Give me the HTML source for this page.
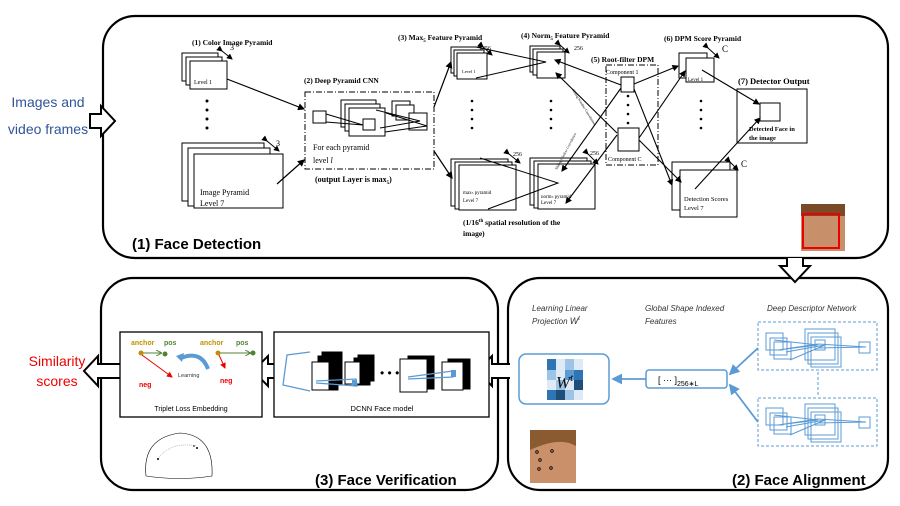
<!DOCTYPE html>
<html><head><meta charset="utf-8"><style>
html,body{margin:0;padding:0;background:#fff;}
svg{display:block;}
.s{font-family:"Liberation Serif",serif;}
.c{font-family:"Liberation Sans",sans-serif;}
</style></head><body>
<svg width="900" height="506" viewBox="0 0 900 506" xmlns="http://www.w3.org/2000/svg">
<defs>
<marker id="a" markerWidth="6" markerHeight="6" refX="5" refY="3" orient="auto"><path d="M0,0 L6,3 L0,6 z" fill="#000"/></marker>
<marker id="ab" markerWidth="6" markerHeight="6" refX="5" refY="3" orient="auto"><path d="M0,0 L6,3 L0,6 z" fill="#5b9bd5"/></marker>
<marker id="ar" markerWidth="6" markerHeight="6" refX="5" refY="3" orient="auto"><path d="M0,0 L6,3 L0,6 z" fill="#e00"/></marker>
<marker id="ag" markerWidth="6" markerHeight="6" refX="5" refY="3" orient="auto"><path d="M0,0 L6,3 L0,6" fill="none" stroke="#548235"/></marker>
</defs>
<!-- main boxes -->
<rect x="103" y="16" width="785" height="242" rx="32" fill="none" stroke="#000" stroke-width="2.2"/>
<rect x="101" y="278" width="397" height="212" rx="32" fill="none" stroke="#000" stroke-width="2.2"/>
<rect x="508" y="278" width="380" height="212" rx="32" fill="none" stroke="#000" stroke-width="2.2"/>
<!-- hollow arrows -->
<path d="M90,114 H101 V106 L115,121 L101,136 V128 H90 Z" fill="#fff" stroke="#000" stroke-width="2"/>
<path d="M787,258 V266 H780 L795,282 L810,266 H803 V258" fill="#fff" stroke="#000" stroke-width="2"/>
<path d="M125,364 H98 V356 L84,371 L98,386 V378 H125 Z" fill="#fff" stroke="#000" stroke-width="2"/>
<path d="M282,364 H268 V356 L253,371 L268,386 V378 H282" fill="#fff" stroke="#000" stroke-width="2"/>
<path d="M510,364 H492 V356 L477,371 L492,386 V378 H510" fill="#fff" stroke="#000" stroke-width="2"/>
<text x="48" y="107" class="c" font-size="14" fill="#2f5597" text-anchor="middle">Images and</text>
<text x="48" y="134" class="c" font-size="14" fill="#2f5597" text-anchor="middle">video frames</text>
<text x="57" y="366" class="c" font-size="14" fill="#e00" text-anchor="middle">Similarity</text>
<text x="57" y="386" class="c" font-size="14" fill="#e00" text-anchor="middle">scores</text>
<text x="132" y="249" class="c" font-size="15" font-weight="bold">(1) Face Detection</text>
<text x="315" y="485" class="c" font-size="15" font-weight="bold">(3) Face Verification</text>
<text x="732" y="485" class="c" font-size="15" font-weight="bold">(2) Face Alignment</text>

<g fill="#fff" stroke="#000" stroke-width="1">
<!-- color pyramid -->
<rect x="182" y="53" width="36" height="28"/><rect x="186" y="57" width="36" height="28"/><rect x="190" y="61" width="37" height="28"/>
<rect x="182" y="143" width="82" height="58"/><rect x="188" y="148" width="82" height="58"/><rect x="194" y="154" width="89" height="54"/>
<!-- CNN -->
<rect x="305" y="92" width="129" height="77" stroke-dasharray="6,2,1,2"/>
<rect x="313" y="111" width="13" height="12"/>
<rect x="341" y="100" width="35" height="27"/><rect x="345" y="104" width="35" height="27"/><rect x="349" y="108" width="36" height="28"/>
<rect x="363" y="119" width="12" height="11"/>
<rect x="392" y="101" width="18" height="15"/><rect x="396" y="105" width="18" height="15"/><rect x="409" y="113" width="18" height="17"/>
<!-- max5 -->
<rect x="451" y="47" width="30" height="26"/><rect x="454" y="50" width="30" height="26"/><rect x="457" y="53" width="30" height="26"/>
<rect x="451" y="159" width="57" height="47"/><rect x="455" y="162" width="57" height="47"/><rect x="459" y="165" width="57" height="45"/>
<!-- norm5 -->
<rect x="530" y="46" width="30" height="26"/><rect x="533" y="49" width="30" height="26"/><rect x="537" y="52" width="28" height="26"/>
<rect x="530" y="158" width="57" height="47"/><rect x="534" y="161" width="57" height="47"/><rect x="538" y="164" width="57" height="45"/>
<!-- DPM -->
<rect x="606" y="65" width="52" height="100" stroke-dasharray="6,2,1,2"/>
<rect x="621" y="77" width="13" height="15"/>
<rect x="618" y="128" width="21" height="23"/>
<!-- score -->
<rect x="679" y="53" width="28" height="25"/><rect x="686" y="58" width="28" height="24"/>
<rect x="672" y="162" width="58" height="48"/><rect x="680" y="170" width="57" height="47"/>
<!-- detector output -->
<rect x="737" y="89" width="70" height="54"/>
<rect x="760" y="103" width="20" height="18"/>
</g>
<g class="s" font-weight="bold" font-size="7.5">
<text x="192" y="45">(1) Color Image Pyramid</text>
<text x="304" y="83">(2) Deep Pyramid CNN</text>
<text x="398" y="40">(3) Max<tspan font-size="5" dy="2">5</tspan><tspan dy="-2"> Feature Pyramid</tspan></text>
<text x="521" y="38">(4) Norm<tspan font-size="5" dy="2">5</tspan><tspan dy="-2"> Feature Pyramid</tspan></text>
<text x="591" y="62">(5) Root-filter DPM</text>
<text x="664" y="41">(6) DPM Score Pyramid</text>
<text x="738" y="84" font-size="8.5">(7) Detector Output</text>
<text x="315" y="182" font-size="8">(output Layer is max<tspan font-size="5" dy="2">5</tspan><tspan dy="-2">)</tspan></text>
<text x="463" y="225">(1/16<tspan font-size="5" dy="-3">th</tspan><tspan dy="3"> spatial resolution of the</tspan></text>
<text x="463" y="236">image)</text>
<text x="749" y="131" font-size="6.5">Detected Face in</text>
<text x="749" y="140" font-size="6.5">the image</text>
</g>
<g class="s" font-size="6">
<text x="194" y="84">Level 1</text>
<text x="200" y="195" font-size="8">Image Pyramid</text>
<text x="200" y="206" font-size="8">Level 7</text>
<text x="313" y="150" font-size="8">For each pyramid</text>
<text x="313" y="163" font-size="8">level <tspan font-style="italic">l</tspan></text>
<text x="462" y="73" font-size="4.5">Level 1</text>
<text x="463" y="194" font-size="5">max<tspan font-size="3.5">5</tspan> pyramid</text>
<text x="463" y="202" font-size="5">Level 7</text>
<text x="541" y="198" font-size="5">norm<tspan font-size="3.5">5</tspan> pyramid</text>
<text x="541" y="204" font-size="5">Level 7</text>
<text x="606" y="74">Component 1</text>
<text x="608" y="161">Component C</text>
<text x="688" y="81" font-size="5">Level 1</text>
<text x="684" y="201" font-size="6.5">Detection Scores</text>
<text x="684" y="210" font-size="6.5">Level 7</text>
<text x="230" y="50" font-size="8">3</text>
<text x="276" y="146" font-size="8">3</text>
<text x="482" y="50">256</text><text x="513" y="156">256</text>
<text x="574" y="50">256</text><text x="590" y="155">256</text>
<text x="722" y="52" font-size="9">C</text><text x="741" y="167" font-size="9">C</text>
</g>
<!-- dots -->
<g fill="#000">
<circle cx="207" cy="101" r="1.5"/><circle cx="207" cy="110" r="1.5"/><circle cx="207" cy="119" r="1.5"/><circle cx="207" cy="128" r="1.5"/>
<circle cx="472" cy="101" r="1.3"/><circle cx="472" cy="110" r="1.3"/><circle cx="472" cy="119" r="1.3"/><circle cx="472" cy="128" r="1.3"/>
<circle cx="551" cy="101" r="1.3"/><circle cx="551" cy="110" r="1.3"/><circle cx="551" cy="119" r="1.3"/><circle cx="551" cy="128" r="1.3"/>
<circle cx="628" cy="96" r="1.3"/><circle cx="628" cy="105" r="1.3"/><circle cx="628" cy="114" r="1.3"/><circle cx="628" cy="123" r="1.3"/>
<circle cx="701" cy="101" r="1.3"/><circle cx="701" cy="110" r="1.3"/><circle cx="701" cy="119" r="1.3"/><circle cx="701" cy="128" r="1.3"/>
</g>
<!-- connectors top -->
<g stroke="#000" stroke-width="1" fill="none">
<line x1="227" y1="79" x2="304" y2="109" marker-end="url(#a)" stroke-width="1.2"/>
<line x1="277" y1="184" x2="304" y2="160" marker-end="url(#a)" stroke-width="1.2"/>
<polyline points="326,114 363,125 326,122"/>
<polyline points="376,110 420,121 380,128"/>
<polyline points="386,113 427,126 385,132"/>
<line x1="434" y1="107" x2="451" y2="62" marker-end="url(#a)" stroke-width="1.2"/>
<line x1="434" y1="151" x2="452" y2="178" marker-end="url(#a)" stroke-width="1.2"/>
<line x1="222" y1="51" x2="232" y2="59" marker-end="url(#a)" marker-start="url(#a)"/>
<line x1="267" y1="141" x2="279" y2="151" marker-end="url(#a)" marker-start="url(#a)"/>
<polyline points="476,47 546,62 476,78"/>
<polyline points="480,158 558,183 488,209"/>
<line x1="483" y1="47" x2="492" y2="55" marker-end="url(#a)" marker-start="url(#a)"/>
<line x1="509" y1="154" x2="520" y2="163" marker-end="url(#a)" marker-start="url(#a)"/>
<line x1="560" y1="45" x2="569" y2="53" marker-end="url(#a)" marker-start="url(#a)"/>
<line x1="588" y1="154" x2="598" y2="164" marker-end="url(#a)" marker-start="url(#a)"/>
<line x1="621" y1="85" x2="555" y2="60" marker-end="url(#a)" stroke-width="1.1"/>
<line x1="617" y1="133" x2="556" y2="73" marker-end="url(#a)" stroke-width="1.1"/>
<line x1="621" y1="88" x2="562" y2="171" marker-end="url(#a)" stroke-width="1.1"/>
<line x1="617" y1="135" x2="566" y2="203" marker-end="url(#a)" stroke-width="1.1"/>
<line x1="634" y1="84" x2="678" y2="66" marker-end="url(#a)" stroke-width="1.1"/>
<line x1="639" y1="138" x2="685" y2="71" marker-end="url(#a)" stroke-width="1.1"/>
<line x1="634" y1="89" x2="672" y2="185" marker-end="url(#a)" stroke-width="1.1"/>
<line x1="639" y1="140" x2="681" y2="182" marker-end="url(#a)" stroke-width="1.1"/>
<line x1="702" y1="70" x2="759" y2="104" marker-end="url(#a)" stroke-width="1.1"/>
<line x1="695" y1="189" x2="760" y2="118" marker-end="url(#a)" stroke-width="1.1"/>
<line x1="708" y1="48" x2="719" y2="58" marker-end="url(#a)" marker-start="url(#a)"/>
<line x1="730" y1="162" x2="738" y2="170" marker-end="url(#a)" marker-start="url(#a)"/>
</g>
<text x="572" y="90" class="s" font-size="3.5" transform="rotate(58 572 90)">Sliding Window Convolution</text>
<text x="557" y="170" class="s" font-size="3.5" transform="rotate(-62 557 170)">Sliding Window Convolution</text>
<!-- face top -->
<rect x="801" y="204" width="44" height="47" fill="#c8906a"/>
<rect x="801" y="204" width="44" height="12" fill="#7a4a28"/>
<rect x="803" y="214" width="36" height="34" fill="none" stroke="#e00" stroke-width="2"/>

<!-- bottom left -->
<rect x="120" y="332" width="142" height="85" fill="#fff" stroke="#000" stroke-width="1.3"/>
<rect x="274" y="332" width="215" height="85" fill="#fff" stroke="#000" stroke-width="1.3"/>
<text x="191" y="411" class="c" font-size="7" text-anchor="middle">Triplet Loss Embedding</text>
<text x="382" y="411" class="c" font-size="7.5" text-anchor="middle">DCNN Face model</text>
<g class="c" font-size="7" font-weight="bold">
<text x="131" y="345" fill="#bf9000">anchor</text><text x="164" y="345" fill="#548235">pos</text>
<text x="200" y="345" fill="#bf9000">anchor</text><text x="236" y="345" fill="#548235">pos</text>
<text x="139" y="387" fill="#e00">neg</text><text x="220" y="383" fill="#e00">neg</text>
</g>
<text x="178" y="377" class="c" font-size="5.5" fill="#333">Learning</text>
<circle cx="141" cy="353" r="2.5" fill="#bf9000"/><circle cx="165" cy="354" r="2.5" fill="#548235"/>
<circle cx="218" cy="353" r="2.5" fill="#bf9000"/><circle cx="253" cy="353" r="2.5" fill="#548235"/>
<g stroke-width="1" fill="none">
<line x1="143" y1="353" x2="161" y2="353" stroke="#548235" marker-end="url(#ag)"/>
<line x1="220" y1="353" x2="250" y2="353" stroke="#548235" marker-end="url(#ag)"/>
<line x1="142" y1="355" x2="172" y2="377" stroke="#e00" marker-end="url(#ar)"/>
<line x1="219" y1="355" x2="225" y2="368" stroke="#e00" marker-end="url(#ar)"/>
<path d="M208,369 Q201,350 181,358" stroke="#5b9bd5" stroke-width="4"/>
</g>
<path d="M176,356 L184,353 L182,362 z" fill="#5b9bd5"/>
<!-- DCNN -->
<g stroke="#000" fill="#fff">
<rect x="322" y="352" width="20" height="33" fill="#000"/><rect x="318" y="356" width="20" height="34" fill="#000"/><rect x="312" y="362" width="17" height="28"/>
<rect x="358" y="355" width="16" height="26" fill="#000"/><rect x="354" y="358" width="16" height="27" fill="#000"/><rect x="345" y="362" width="15" height="22"/>
<rect x="408" y="356" width="26" height="33" fill="#000"/><rect x="400" y="359" width="27" height="33"/>
<rect x="448" y="359" width="22" height="30" fill="#000"/><rect x="442" y="362" width="21" height="28"/>
</g>
<text x="380" y="377" font-size="12" class="c">• • •</text>
<g stroke="#5b9bd5" stroke-width="1.3" fill="none">
<polyline points="310,352 287,355 283,385 310,391"/>
<polyline points="316,381 356,379 357,386 316,383"/>
<polyline points="408,377 453,371 453,377 408,379"/>
</g>
<rect x="352" y="380" width="5" height="5" fill="#5b9bd5"/><rect x="451" y="370" width="5" height="7" fill="#5b9bd5"/>
<!-- sphere -->
<path d="M146,476 Q142,438 180,433 Q214,435 212,476 Q180,481 146,476" fill="none" stroke="#000" stroke-width="0.6"/>
<path d="M158,459 Q170,441 197,446" fill="none" stroke="#777" stroke-width="0.5" stroke-dasharray="1,1"/>
<circle cx="158" cy="459" r="1" fill="#000"/><circle cx="197" cy="448" r="1" fill="#000"/><circle cx="194" cy="446" r="0.8" fill="#000"/>

<!-- bottom right -->
<g class="c" font-size="8" font-style="italic" fill="#333">
<text x="532" y="311">Learning Linear</text>
<text x="532" y="324">Projection <tspan font-size="9">W</tspan><tspan font-size="6" dy="-4">t</tspan></text>
<text x="645" y="311">Global Shape Indexed</text>
<text x="645" y="324">Features</text>
<text x="767" y="311">Deep Descriptor Network</text>
</g>
<rect x="519" y="354" width="90" height="50" rx="7" fill="#fff" stroke="#5b9bd5" stroke-width="1.5"/>
<g>
<rect x="547" y="359" width="9" height="11" fill="#2e75b6"/><rect x="556" y="359" width="9" height="11" fill="#deebf7"/><rect x="565" y="359" width="9" height="11" fill="#9dc3e6"/><rect x="574" y="359" width="9" height="11" fill="#deebf7"/>
<rect x="547" y="370" width="9" height="10" fill="#9dc3e6"/><rect x="556" y="370" width="9" height="10" fill="#deebf7"/><rect x="565" y="370" width="9" height="10" fill="#5b9bd5"/><rect x="574" y="370" width="9" height="10" fill="#2e75b6"/>
<rect x="547" y="380" width="9" height="10" fill="#deebf7"/><rect x="556" y="380" width="9" height="10" fill="#9dc3e6"/><rect x="565" y="380" width="9" height="10" fill="#deebf7"/><rect x="574" y="380" width="9" height="10" fill="#1f4e79"/>
<rect x="547" y="390" width="9" height="10" fill="#2e75b6"/><rect x="556" y="390" width="9" height="10" fill="#1f4e79"/><rect x="565" y="390" width="9" height="10" fill="#9dc3e6"/><rect x="574" y="390" width="9" height="10" fill="#deebf7"/>
</g>
<text x="556" y="388" font-family="Liberation Serif,serif" font-style="italic" font-size="17" fill="#111">W<tspan font-size="11" dy="-7">t</tspan></text>
<rect x="646" y="370" width="81" height="18" rx="3" fill="#fff" stroke="#5b9bd5" stroke-width="1.5"/>
<text x="658" y="383" class="c" font-size="9">[ ··· ]<tspan font-size="7" dy="3">256∗L</tspan></text>
<line x1="646" y1="379" x2="613" y2="379" stroke="#5b9bd5" stroke-width="1.8" marker-end="url(#ab)"/>
<line x1="758" y1="348" x2="730" y2="374" stroke="#5b9bd5" stroke-width="1.8" marker-end="url(#ab)"/>
<line x1="758" y1="422" x2="730" y2="385" stroke="#5b9bd5" stroke-width="1.8" marker-end="url(#ab)"/>
<g stroke="#5b9bd5" fill="none" stroke-width="1">
<rect x="758" y="322" width="119" height="48" stroke-dasharray="3,2"/>
<rect x="758" y="398" width="119" height="48" stroke-dasharray="3,2"/>
<line x1="818" y1="372" x2="818" y2="396" stroke-dasharray="3,2"/>
<g id="net">
<rect x="766" y="333" width="17" height="17"/><rect x="770" y="338" width="17" height="17"/><rect x="774" y="342" width="17" height="17"/>
<rect x="805" y="329" width="30" height="31"/><rect x="808" y="333" width="30" height="31"/><rect x="811" y="337" width="30" height="30"/>
<rect x="815" y="340" width="10" height="10"/><rect x="859" y="342" width="11" height="11"/>
<polyline points="774,340 818,345 778,350 818,344 866,347 818,348"/>
<polyline points="786,352 825,345 790,360"/>
</g>
<use href="#net" y="75"/>
</g>
<!-- bottom face -->
<rect x="530" y="430" width="46" height="53" fill="#c9906a"/>
<path d="M530,430 H576 V446 Q560,436 530,450 Z" fill="#8a5a30"/>
<g fill="none" stroke="#000" stroke-width="0.8">
<circle cx="537" cy="452" r="1.3"/><circle cx="552" cy="451" r="1.3"/><circle cx="540" cy="460" r="1.3"/><circle cx="539" cy="469" r="1.3"/><circle cx="551" cy="468" r="1.3"/>
</g>
</svg>
</body></html>
